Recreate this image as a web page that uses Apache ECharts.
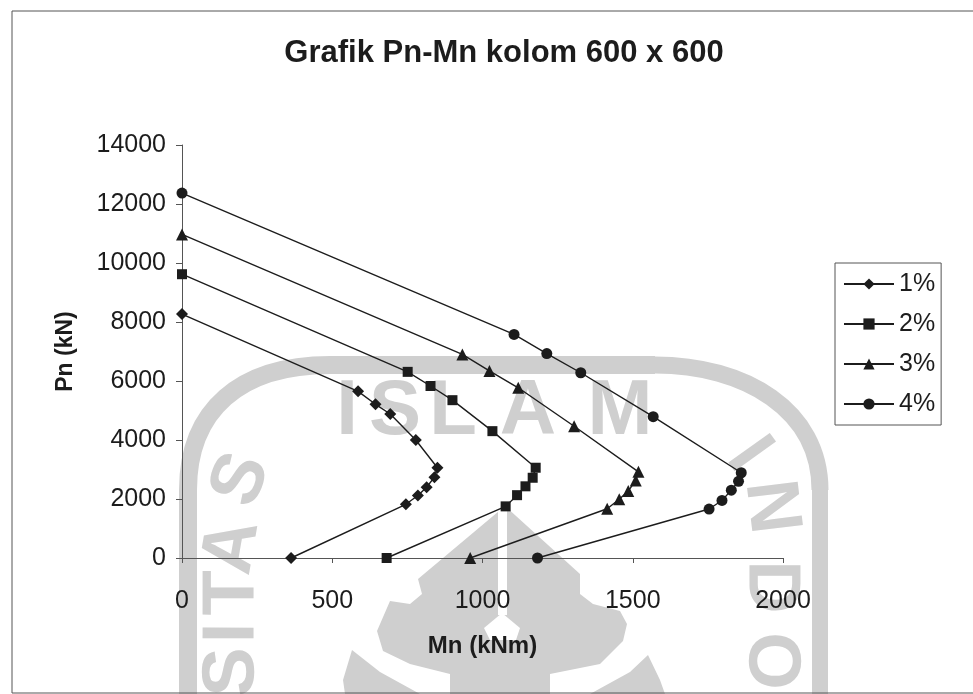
<!DOCTYPE html>
<html><head><meta charset="utf-8">
<style>html,body{margin:0;padding:0;background:#fff}#c{width:973px;height:694px}</style>
<script src="https://cdn.jsdelivr.net/npm/echarts@6/dist/echarts.min.js"></script>
</head><body><div id="c"></div>
<script>
const seriesNames = ['1%','2%','3%','4%'];
const mn1 = [0,586,644,693,778,850,840,814,785,745,363];
const pn1 = [8270,5650,5210,4880,4000,3060,2740,2400,2120,1820,0];
const mn2 = [0,751,827,900,1033,1177,1167,1143,1115,1077,681];
const pn2 = [9620,6310,5830,5350,4300,3060,2720,2430,2130,1750,0];
const mn3 = [0,933,1023,1119,1305,1519,1510,1485,1455,1415,959];
const pn3 = [10970,6900,6340,5770,4465,2920,2630,2270,1990,1670,0];
const mn4 = [0,1105,1214,1327,1568,1861,1852,1828,1797,1754,1183];
const pn4 = [12370,7580,6930,6280,4790,2890,2600,2300,1950,1660,0];
const symbols = ['diamond','rect','triangle','circle'];
const symbolSizes = [12,10,12,11];
const FONT = '"Liberation Sans", Arial, sans-serif';
const INK = '#1c1c1c', WM = '#cfcfcf';

const zip = (a,b) => a.map((v,i)=>[v,b[i]]);
const rows = [zip(mn1,pn1),zip(mn2,pn2),zip(mn3,pn3),zip(mn4,pn4)];

// scanned watermark, behind the plot
const wmLetters = [
  ['I',347,412,0,78],['S',395,412,0,78],['L',453,412,0,78],['A',528,412,0,78],['M',620,412,0,78],
  ['S',242,480,1.2,74],['A',233,547,1.4,74],['T',233,593,1.57,74],['I',233,633,1.57,74],['S',233,672,1.57,74],
  ['I',748,455,-0.95,74],['N',770,507,-1.45,74],['D',770,587,-1.57,74],['O',770,661,-1.57,74]
];
const wmBand = (lw) => ({stroke:WM,lineWidth:lw,fill:'none'});
const wmGraphics = [
  {type:'line',z:-10,silent:true,shape:{x1:188,y1:694,x2:188,y2:490},style:wmBand(18)},
  {type:'bezierCurve',z:-10,silent:true,shape:{x1:188,y1:490,cpx1:188,cpy1:410,cpx2:240,cpy2:365,x2:330,y2:365},style:wmBand(18)},
  {type:'line',z:-10,silent:true,shape:{x1:330,y1:365,x2:655,y2:365},style:wmBand(18)},
  {type:'bezierCurve',z:-10,silent:true,shape:{x1:655,y1:365,cpx1:745,cpy1:365,cpx2:820,cpy2:410,x2:820,y2:490},style:wmBand(17)},
  {type:'line',z:-10,silent:true,shape:{x1:820,y1:490,x2:820,y2:694},style:wmBand(16)},
  {type:'polygon',z:-10,silent:true,shape:{points:[[505,506],[418,579],[422,594],[410,604],[390,601],[377,631],[383,651],[410,664],[450,674],[450,694],[550,694],[550,674],[600,664],[623,641],[627,624],[620,611],[593,604],[580,594],[580,574]]},
   style:{fill:WM}},
  {type:'polygon',z:-10,silent:true,shape:{points:[[352,650],[343,680],[345,694],[420,694],[380,672]]},style:{fill:WM}},
  {type:'polygon',z:-10,silent:true,shape:{points:[[648,655],[660,680],[665,694],[590,694],[630,672]]},style:{fill:WM}},
  {type:'rect',z:-9,silent:true,shape:{x:498,y:510,width:9,height:105},style:{fill:'#fff'}},
  {type:'polygon',z:-9,silent:true,shape:{points:[[502,613],[484,628],[490,640],[516,640],[520,628]]},style:{fill:'#fff'}},
  ...wmLetters.map(([t,x,y,r,s])=>({type:'text',z:-10,silent:true,x:x,y:y,rotation:r,
    style:{text:t,fill:WM,font:`bold ${s}px ${FONT}`,align:'center',verticalAlign:'middle'}}))
];

const chart = echarts.init(document.getElementById('c'),null,{renderer:'canvas'});
chart.setOption({
  animation:false,
  backgroundColor:'#fff',
  title:{text:'Grafik Pn-Mn kolom 600 x 600',left:499,top:33,textAlign:'center',
    textStyle:{fontFamily:FONT,fontWeight:'bold',fontSize:31,color:INK}},
  grid:{left:182,top:145,width:601,height:413},
  legend:{orient:'vertical',left:835,top:263,padding:[7,6,7,8],itemWidth:50,itemHeight:14,itemGap:12,
    borderColor:'#555',borderWidth:1,data:seriesNames,
    textStyle:{fontFamily:FONT,fontSize:25,color:INK,lineHeight:28}},
  xAxis:{type:'value',min:0,max:2000,interval:500,
    name:'Mn (kNm)',nameLocation:'middle',nameGap:76,
    nameTextStyle:{fontFamily:FONT,fontWeight:'bold',fontSize:24,color:INK},
    axisLine:{show:true,onZero:false,lineStyle:{color:'#555',width:1}},
    axisTick:{show:true,length:5,lineStyle:{color:'#555'}},
    axisLabel:{fontFamily:FONT,fontSize:25,color:INK,margin:31,formatter:v=>String(v)},
    splitLine:{show:false}},
  yAxis:{type:'value',min:0,max:14000,interval:2000,
    name:'Pn (kN)',nameLocation:'middle',nameGap:105,
    nameTextStyle:{fontFamily:FONT,fontWeight:'bold',fontSize:23,color:INK},
    axisLine:{show:true,onZero:false,lineStyle:{color:'#555',width:1}},
    axisTick:{show:true,length:6,lineStyle:{color:'#555'}},
    axisLabel:{fontFamily:FONT,fontSize:25,color:INK,margin:16,formatter:v=>String(v)},
    splitLine:{show:false}},
  series:rows.map((d,i)=>({type:'line',name:seriesNames[i],data:d,symbol:symbols[i],
    symbolSize:symbolSizes[i],showSymbol:true,clip:false,
    lineStyle:{color:INK,width:1.4},itemStyle:{color:INK,borderWidth:0}})),
  graphic:{elements:[
    ...wmGraphics,
    {type:'rect',z:-5,silent:true,shape:{x:12,y:11,width:975,height:682},
     style:{fill:'none',stroke:'#555',lineWidth:1}}
  ]}
});
</script></body></html>
